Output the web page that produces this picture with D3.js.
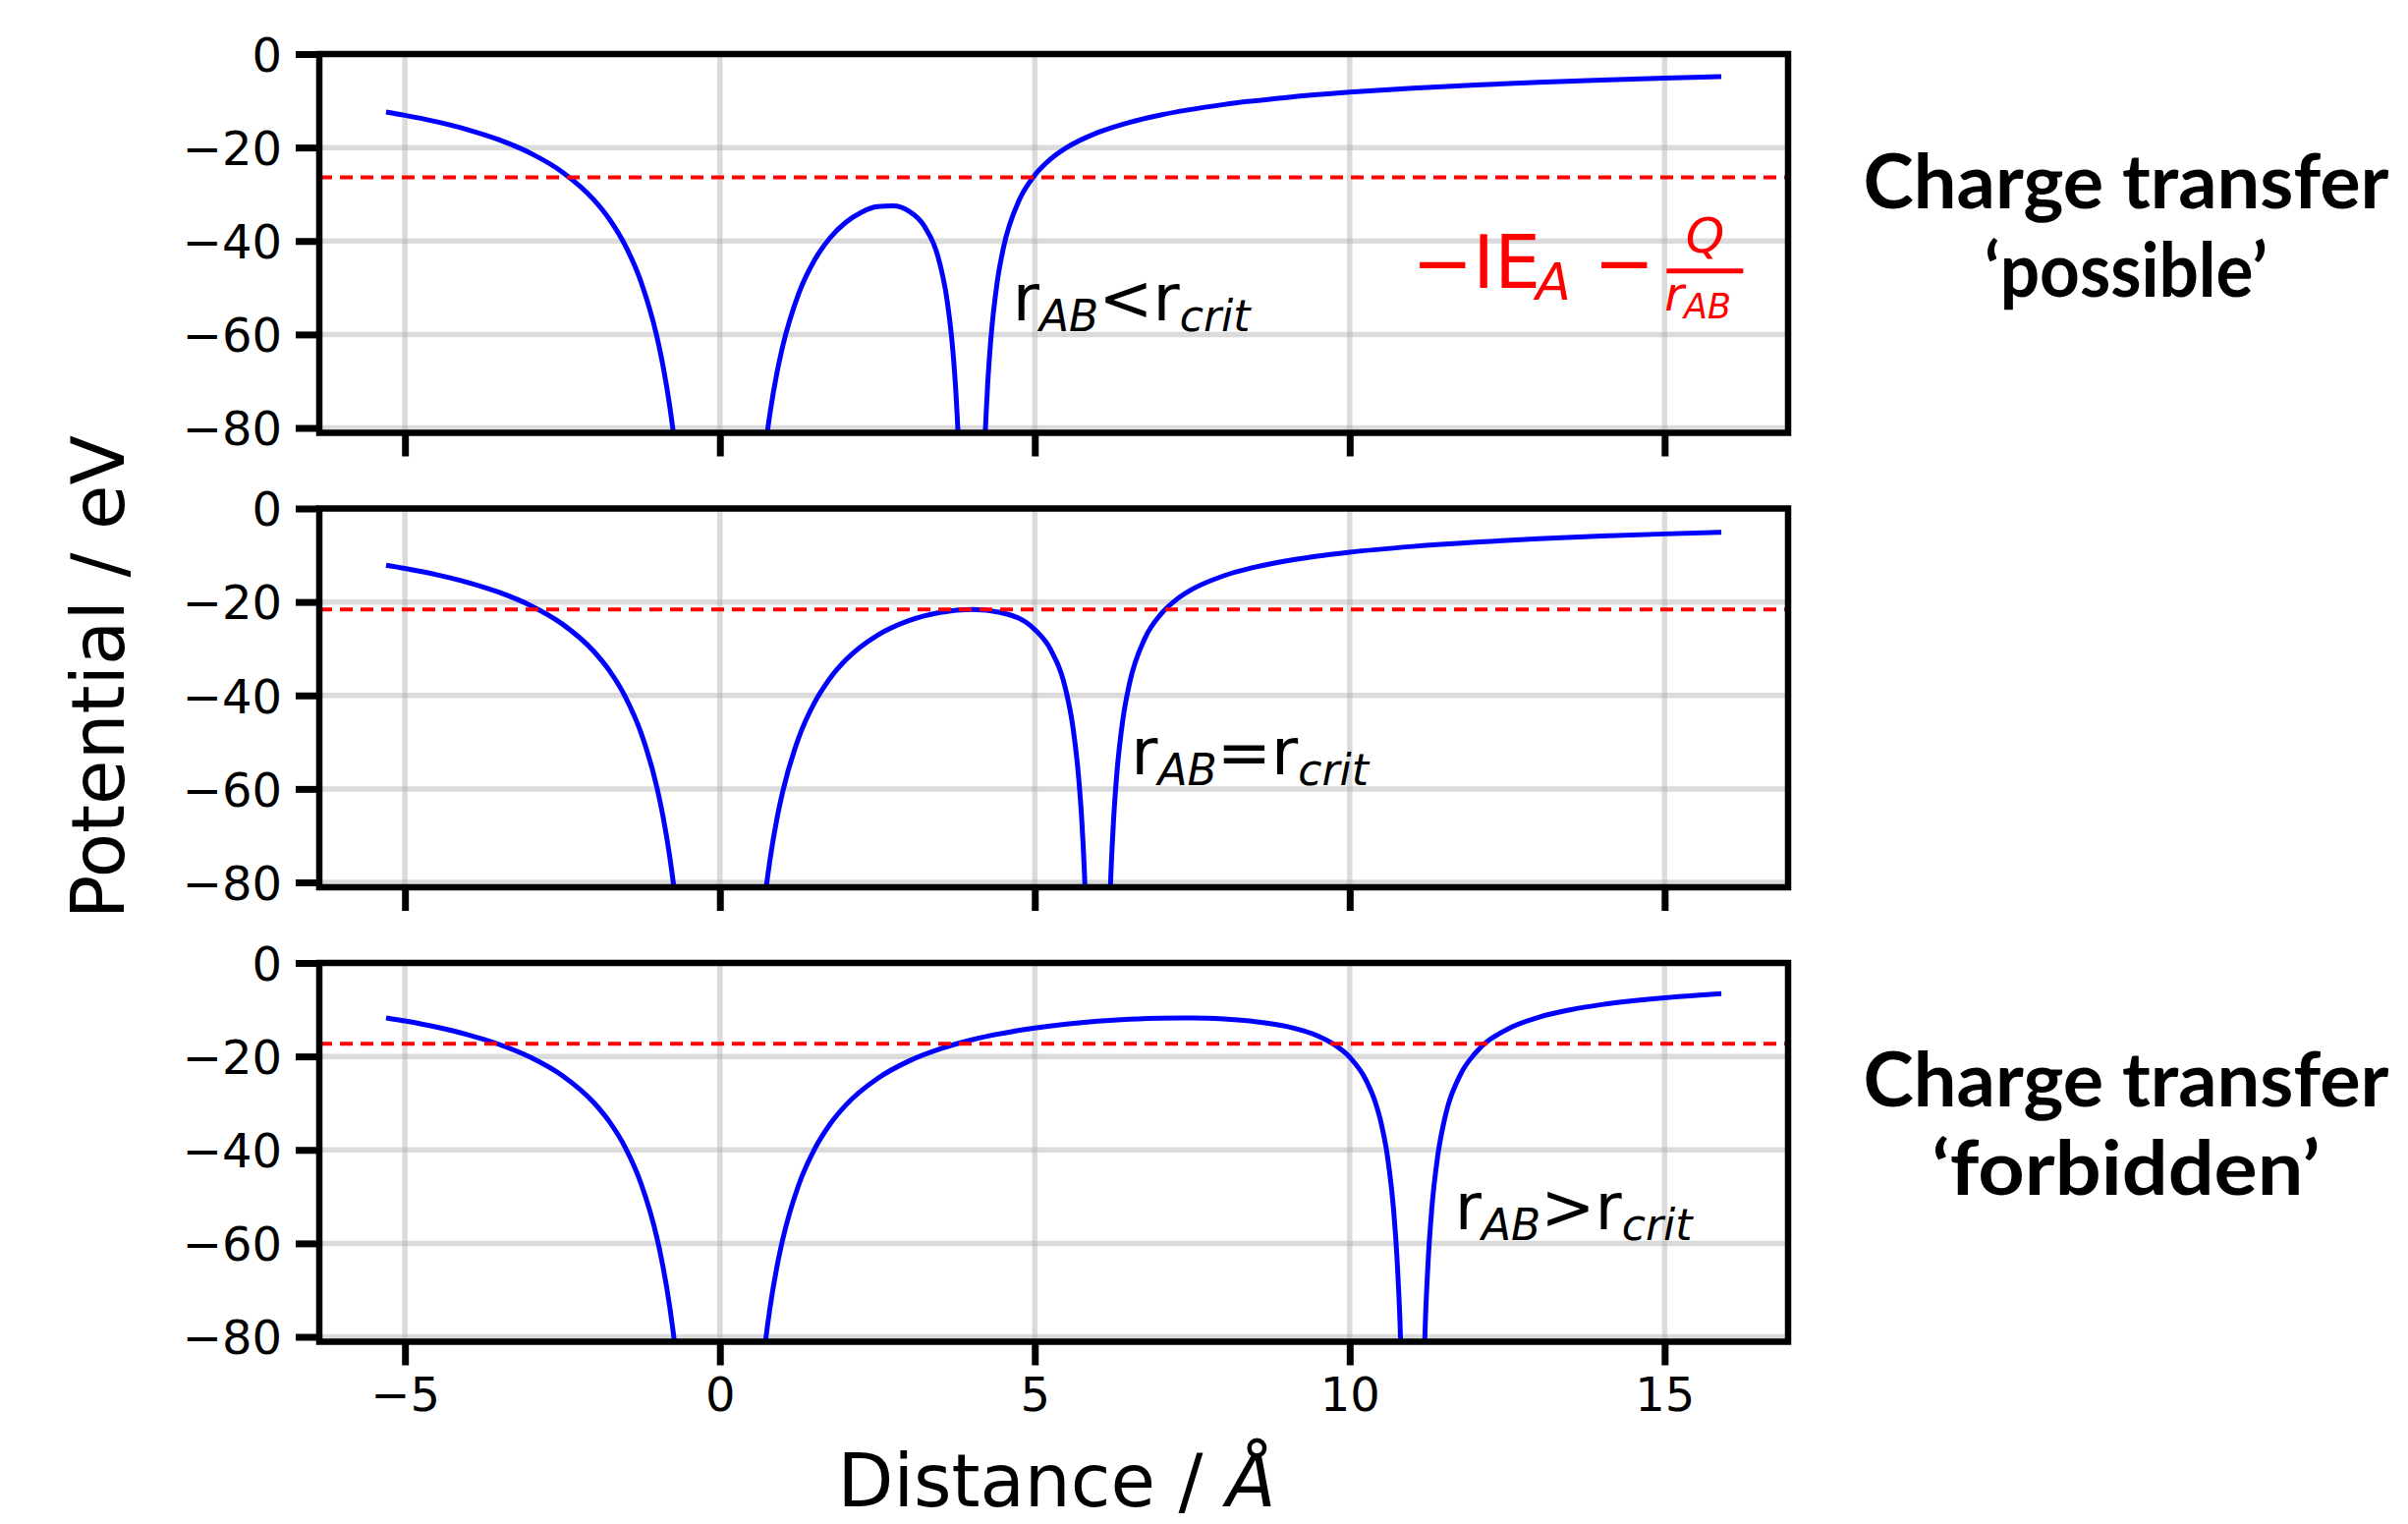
<!DOCTYPE html>
<html>
<head>
<meta charset="utf-8">
<title>Potential vs distance</title>
<script src="https://cdn.jsdelivr.net/npm/d3@7"></script>
<style>
    body{ margin: 0; background: #fff; }
    svg text{ font-family: "DejaVu Sans", sans-serif; }
    .side{ font-family: Lato, "Open Sans", sans-serif; font-weight: 700; }
</style>
</head>
<body>
<svg id="chart"></svg>
<script>

// ticks
var xTicks = [-5, 0, 5, 10, 15];
var yTicks = [0, -20, -40, -60, -80];

// r_AB for each panel and the -IE_A - Q/r_AB level (eV)
var separation = [4, 6, 11];
var threshold = [-26.4, -21.6, -17.3];
var relation = ["<", "=", ">"];
var labelX = [4.65, 6.53, 11.67];
var labelY = -56.9;

// potential, one array per branch [distance, eV]
var close1 = [[-5.3,-12.42],[-5,-13.12],[-4.5,-14.49],[-4,-16.2],[-3.5,-18.38],[-3,-21.26],[-2.5,-25.26],[-2,-31.2],[-1.75,-35.42],[-1.5,-41.02],[-1.25,-48.82],[-1,-60.48],[-0.9,-66.94],[-0.8,-75],[-0.7,-85.35],[-0.6,-99.1]];
var close2 = [[0.6,-100.2],[0.7,-86.65],[0.8,-76.5],[0.9,-68.65],[1,-62.4],[1.25,-51.32],[1.5,-44.16],[1.75,-39.31],[2,-36],[2.25,-33.83],[2.5,-32.64],[2.75,-32.47],[3,-33.6],[3.25,-36.92],[3.5,-45.26],[3.6,-52],[3.7,-63.57],[3.75,-72.96],[3.8,-87.16],[3.85,-110.96]];
var close3 = [[4.15,-109.9],[4.2,-85.71],[4.25,-71.15],[4.3,-61.4],[4.4,-49.09],[4.5,-41.6],[4.75,-31.33],[5,-25.92],[5.25,-22.49],[5.5,-20.07],[6,-16.8],[6.5,-14.62],[7,-13.03],[8,-10.8],[9,-9.28],[10,-8.16],[11,-7.29],[12,-6.6],[13,-6.03],[14,-5.55],[15,-5.15],[15.9,-4.83]];

var crit1 = [[-5.3,-12.14],[-5,-12.83],[-4.5,-14.17],[-4,-15.84],[-3.5,-17.97],[-3,-20.8],[-2.5,-24.73],[-2,-30.6],[-1.75,-34.77],[-1.5,-40.32],[-1.25,-48.07],[-1,-59.66],[-0.9,-66.09],[-0.8,-74.12],[-0.7,-84.43],[-0.6,-98.2]];
var crit2 = [[0.6,-98.67],[0.7,-85],[0.8,-74.77],[0.9,-66.82],[1,-60.48],[1.25,-49.11],[1.5,-41.6],[1.75,-36.3],[2,-32.4],[2.5,-27.15],[3,-24],[3.5,-22.22],[4,-21.6],[4.5,-22.4],[5,-25.92],[5.25,-30.17],[5.5,-39.27],[5.6,-46.29],[5.7,-58.11],[5.75,-67.62],[5.8,-81.93],[5.85,-105.85]];
var crit3 = [[6.15,-105.37],[6.2,-81.29],[6.25,-66.82],[6.3,-57.14],[6.4,-45],[6.5,-37.66],[6.75,-27.73],[7,-22.63],[7.25,-19.47],[7.5,-17.28],[8,-14.4],[8.5,-12.54],[9,-11.2],[10,-9.36],[11,-8.12],[12,-7.2],[13,-6.49],[14,-5.91],[15,-5.44],[15.9,-5.08]];

var far1 = [[-5.3,-11.75],[-5,-12.42],[-4.5,-13.73],[-4,-15.36],[-3.5,-17.45],[-3,-20.23],[-2.5,-24.11],[-2,-29.91],[-1.75,-34.04],[-1.5,-39.55],[-1.25,-47.26],[-1,-58.8],[-0.9,-65.21],[-0.8,-73.22],[-0.7,-83.52],[-0.6,-97.24]];
var far2 = [[0.6,-97.38],[0.7,-83.68],[0.8,-73.41],[0.9,-65.43],[1,-59.04],[1.25,-47.56],[1.5,-39.92],[1.75,-34.47],[2,-30.4],[2.5,-24.75],[3,-21],[3.5,-18.38],[4,-16.46],[4.5,-15.02],[5,-13.92],[5.5,-13.09],[6,-12.48],[6.5,-12.06],[7,-11.83],[7.5,-11.79],[8,-12],[8.5,-12.54],[9,-13.6],[9.5,-15.66],[9.75,-17.43],[10,-20.16],[10.25,-24.82],[10.4,-29.54],[10.5,-34.29],[10.6,-41.43],[10.7,-53.38],[10.75,-62.96],[10.8,-77.33],[10.85,-101.3]];
var far3 = [[11.15,-101.17],[11.2,-77.14],[11.25,-62.72],[11.3,-53.1],[11.4,-41.05],[11.5,-33.81],[11.75,-24.1],[12,-19.2],[12.5,-14.21],[13,-11.63],[13.5,-10.03],[14,-8.91],[14.5,-8.09],[15,-7.44],[15.5,-6.92],[15.9,-6.56]];

var curves = [[close1, close2, close3], [crit1, crit2, crit3], [far1, far2, far3]];

var width = 2451, height = 1551;
var left = 325, right = 1820;
var tops = [55, 517.5, 980];
var ph = 385.5;

var svg = d3.select("#chart")
    .attr("width", width)
    .attr("height", height);

svg.append("rect").attr("width", width).attr("height", height).attr("fill", "#fff");

var x = d3.scaleLinear().domain([-6.36, 16.96]).range([left, right]);
var y = d3.scaleLinear().domain([-81.05, 0]).range([ph, 0]);

var line = d3.line()
    .x(function(d){ return x(d[0]); })
    .y(function(d){ return y(d[1]); })
    .curve(d3.curveMonotoneX);

var minus = function(d){ return d < 0 ? "\u2212" + Math.abs(d) : "" + d; };

tops.forEach(function(top, i){
    var g = svg.append("g").attr("transform", "translate(0," + top + ")");

    g.append("clipPath").attr("id", "clip" + i)
        .append("rect").attr("x", left).attr("y", 0).attr("width", right - left).attr("height", ph);

    // grid
    g.selectAll(".vgrid").data(xTicks).enter().append("line")
        .attr("x1", function(d){ return x(d); }).attr("x2", function(d){ return x(d); })
        .attr("y1", 0).attr("y2", ph)
        .style("stroke", "#b0b0b0").style("stroke-opacity", 0.45).style("stroke-width", 5.5);
    g.selectAll(".hgrid").data(yTicks).enter().append("line")
        .attr("x1", left).attr("x2", right)
        .attr("y1", function(d){ return y(d); }).attr("y2", function(d){ return y(d); })
        .style("stroke", "#b0b0b0").style("stroke-opacity", 0.45).style("stroke-width", 5.5);

    var plot = g.append("g").attr("clip-path", "url(#clip" + i + ")");

    plot.selectAll(".branch").data(curves[i]).enter().append("path")
        .attr("d", line)
        .style("fill", "none")
        .style("stroke", "#0000ff")
        .style("stroke-width", 5);

    plot.append("line")
        .attr("x1", left).attr("x2", right)
        .attr("y1", y(threshold[i])).attr("y2", y(threshold[i]))
        .style("stroke", "#ff0000")
        .style("stroke-width", 4)
        .style("stroke-dasharray", "13,8");

    // axes
    var ya = g.append("g").attr("transform", "translate(" + left + ",0)")
        .call(d3.axisLeft(y).tickValues(yTicks).tickSize(24).tickPadding(14).tickFormat(minus));
    var xa = g.append("g").attr("transform", "translate(0," + ph + ")")
        .call(d3.axisBottom(x).tickValues(xTicks).tickSize(24).tickPadding(12)
            .tickFormat(i == 2 ? minus : function(){ return ""; }));
    [ya, xa].forEach(function(a){
        a.select(".domain").remove();
        a.selectAll(".tick line").style("stroke", "#000").style("stroke-width", 7);
        a.selectAll(".tick text").style("font-size", "48px").style("fill", "#000")
            .style("font-family", "'DejaVu Sans', sans-serif");
    });
    ya.selectAll(".tick text").attr("dy", "0.36em");

    g.append("rect")
        .attr("x", left).attr("y", 0).attr("width", right - left).attr("height", ph)
        .style("fill", "none").style("stroke", "#000").style("stroke-width", 6.5);

    // r_AB vs r_crit label
    var t = g.append("text")
        .attr("x", x(labelX[i])).attr("y", y(labelY))
        .style("font-size", "66px").style("fill", "#000");
    t.append("tspan").text("r");
    t.append("tspan").text("AB").attr("dy", 11).style("font-size", "44px").style("font-style", "italic");
    t.append("tspan").text(relation[i]).attr("dy", -11);
    t.append("tspan").text("r");
    t.append("tspan").text("crit").attr("dy", 11).style("font-size", "44px").style("font-style", "italic");

    if (i == 0) {
        // -IE_A - Q / r_AB
        var f = g.append("g")
            .attr("transform", "translate(" + x(11.1) + "," + y(-50) + ")")
            .style("fill", "#ff0000");
        f.append("text").attr("x", -7).attr("y", 0).style("font-size", "74px").text("\u2212IE");
        f.append("text").attr("x", 119).attr("y", 12).style("font-size", "52px").style("font-style", "italic").text("A");
        f.append("text").attr("x", 178).attr("y", 0).style("font-size", "74px").text("\u2212");
        f.append("line").attr("x1", 252).attr("x2", 330).attr("y1", -17).attr("y2", -17)
            .style("stroke", "#ff0000").style("stroke-width", 5);
        f.append("text").attr("x", 291).attr("y", -36).attr("text-anchor", "middle")
            .style("font-size", "50px").style("font-style", "italic").text("Q");
        var den = f.append("text").attr("x", 250).attr("y", 23)
            .style("font-size", "48px").style("font-style", "italic");
        den.append("tspan").text("r");
        den.append("tspan").text("AB").attr("dy", 8).style("font-size", "35px");
    }
});

// axis titles
var xl = svg.append("text")
    .attr("x", (left + right) / 2 + 3).attr("y", 1533)
    .attr("text-anchor", "middle")
    .style("font-size", "74px");
xl.append("tspan").text("Distance / ");
xl.append("tspan").text("\u00c5").style("font-style", "italic");

svg.append("text")
    .attr("transform", "translate(126,689) rotate(-90)")
    .attr("text-anchor", "middle")
    .style("font-size", "74px")
    .text("Potential / eV");

// side notes
var notes = [
    { lines: ["Charge transfer", "\u2018possible\u2019"], base: 212, widths: [535, 288] },
    { lines: ["Charge transfer", "\u2018forbidden\u2019"], base: 1126, widths: [535, 395] }
];
notes.forEach(function(n){
    n.lines.forEach(function(s, k){
        svg.append("text")
            .attr("class", "side")
            .attr("x", 2164).attr("y", n.base + k * 90)
            .attr("text-anchor", "middle")
            .attr("textLength", n.widths[k])
            .attr("lengthAdjust", "spacingAndGlyphs")
            .style("font-size", "77px")
            .text(s);
    });
});

</script>
</body>
</html>
